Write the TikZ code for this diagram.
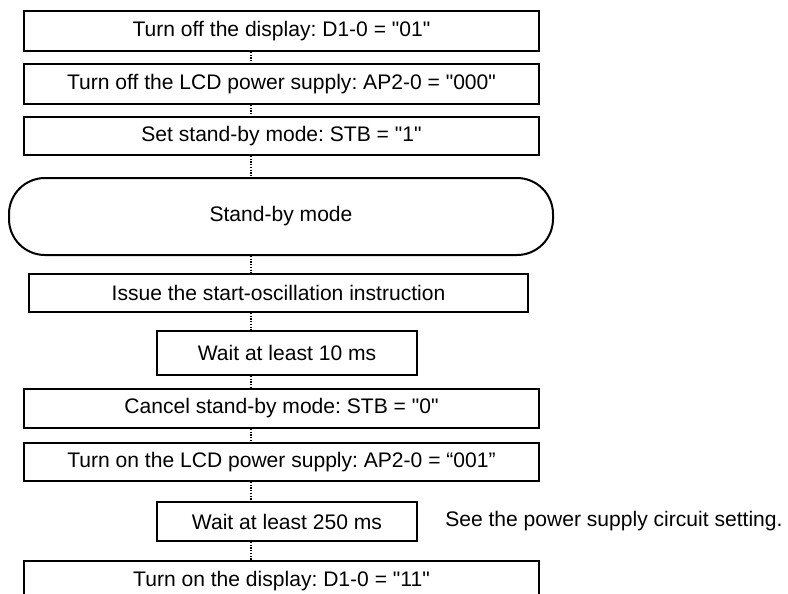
\documentclass[tikz,border=0pt]{standalone}
\usepackage{fontspec}
\setmainfont{Liberation Sans}[Ligatures=TeXOff]
\usetikzlibrary{positioning}
\newlength\px
\setlength\px{0.75pt}
\frenchspacing

\begin{document}
\begin{tikzpicture}[x=0.75pt, y=-0.75pt, font=\fontsize{15.8}{19}\selectfont,
  stepbox/.style={draw, line width=2\px, inner sep=0pt, minimum width=515\px, minimum height=40\px},
  waitbox/.style={stepbox, minimum width=260\px},
  termbox/.style={stepbox, rounded corners=36\px, minimum width=544\px, minimum height=77\px},
  note/.style={inner sep=0pt},
  link/.style={line width=1.3\px, dash pattern=on 1.3\px off 1.4\px}]
  \useasboundingbox (0,0) rectangle (788,593);
  \coordinate (spine) at (251,0);
  % power-down sequence
  \node[stepbox] (dispoff) at (281.5,31) {Turn off the display: D1-0 = "01"};
  \node[stepbox] (lcdoff) at (281.5,84) {Turn off the LCD power supply: AP2-0 = "000"};
  \node[stepbox, minimum height=38\px] (stbset) at (281.5,136) {Set stand-by mode: STB = "1"};
  \node[termbox] (standby) at (281,216.5) {Stand-by mode};
  % wake-up sequence
  \node[stepbox, minimum width=499\px, minimum height=38\px] (osc) at (278.5,293) {Issue the start-oscillation instruction};
  \node[waitbox, minimum height=44\px] (wait10) at (287,353) {Wait at least 10 ms};
  \node[stepbox, minimum height=39\px] (stbclr) at (281.5,408.5) {Cancel stand-by mode: STB = "0"};
  \node[stepbox, minimum height=38\px] (lcdon) at (281.5,462) {Turn on the LCD power supply: AP2-0 = “001”};
  \node[waitbox, minimum height=39\px] (wait250) at (287,521.5) {Wait at least 250 ms};
  \node[note, right=27\px of wait250] (hint) {See the power supply circuit setting.};
  \node[stepbox] (dispon) at (281.5,581) {Turn on the display: D1-0 = "11"};
  \foreach \a/\b in {dispoff/lcdoff, lcdoff/stbset, stbset/standby, standby/osc, osc/wait10,
                     wait10/stbclr, stbclr/lcdon, lcdon/wait250, wait250/dispon}
    \draw[link] (\a.south -| spine) -- (\b.north -| spine);
\end{tikzpicture}
\end{document}
